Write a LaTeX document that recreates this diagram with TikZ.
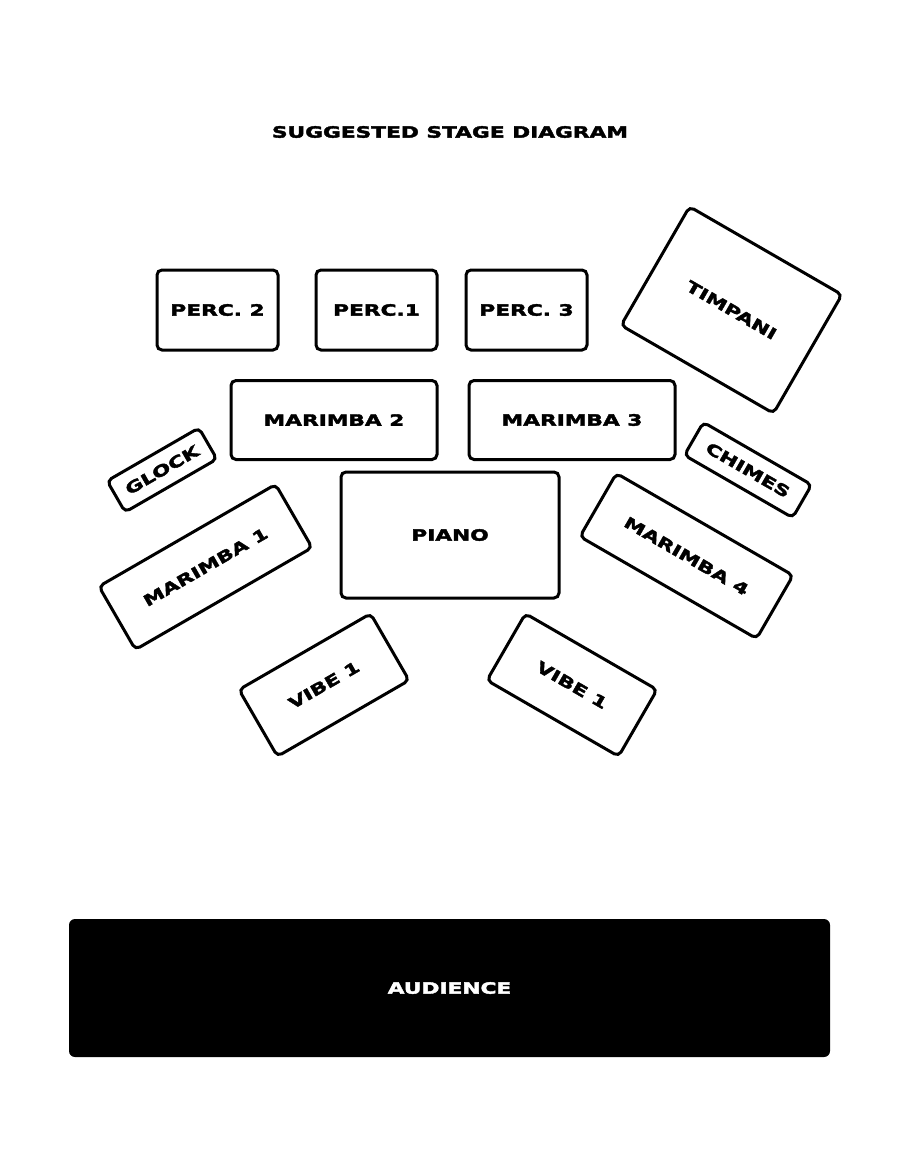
\documentclass[tikz,border=0pt]{standalone}
\usepackage{fontspec}
\setmainfont{DejaVu Sans}[BoldFont={DejaVu Sans Bold},BoldFeatures={FakeStretch=1.4,FakeBold=2.5}]
\begin{document}
\begin{tikzpicture}[x=1pt,y=-1pt,
  inst/.style={draw,line width=3pt,rounded corners=5pt,align=center,inner sep=0pt,font=\bfseries\fontsize{15.5}{18}\selectfont},
  lab/.style={font=\bfseries\fontsize{15.5}{18}\selectfont}]
\useasboundingbox (0,0) rectangle (900,1164);
\node[lab] (title) at (450,132) {SUGGESTED STAGE DIAGRAM};
\node[inst,minimum width=121pt,minimum height=80pt] (p2) at (217.5,310) {PERC. 2};
\node[inst,minimum width=121pt,minimum height=80pt] (p1) at (376.5,310) {PERC.1};
\node[inst,minimum width=121pt,minimum height=80pt] (p3) at (526.5,310) {PERC. 3};
\node[inst,minimum width=206pt,minimum height=79pt] (m2) at (334,420) {MARIMBA 2};
\node[inst,minimum width=206pt,minimum height=79pt] (m3) at (572,420) {MARIMBA 3};
\node[inst,minimum width=218pt,minimum height=126pt] (pi) at (450,535) {PIANO};
\node[inst,minimum width=176pt,minimum height=137pt,rotate=-30] (ti) at (731.5,310) {TIMPANI};
\node[inst,minimum width=106pt,minimum height=36pt,rotate=30] (gl) at (162,470) {GLOCK};
\node[inst,minimum width=125pt,minimum height=38pt,rotate=-30] (ch) at (748,470) {CHIMES};
\node[inst,minimum width=204pt,minimum height=73pt,rotate=30] (m1) at (205.5,567) {MARIMBA 1};
\node[inst,minimum width=204pt,minimum height=73pt,rotate=-30] (m4) at (686.5,556) {MARIMBA 4};
\node[inst,minimum width=152pt,minimum height=77pt,rotate=30] (v1) at (324,685) {VIBE 1};
\node[inst,minimum width=152pt,minimum height=77pt,rotate=-30] (v2) at (572,685) {VIBE 1};
\node[fill=black,rounded corners=6pt,minimum width=761pt,minimum height=138pt,text=white,lab] (au) at (449.5,988) {AUDIENCE};
\end{tikzpicture}
\end{document}
